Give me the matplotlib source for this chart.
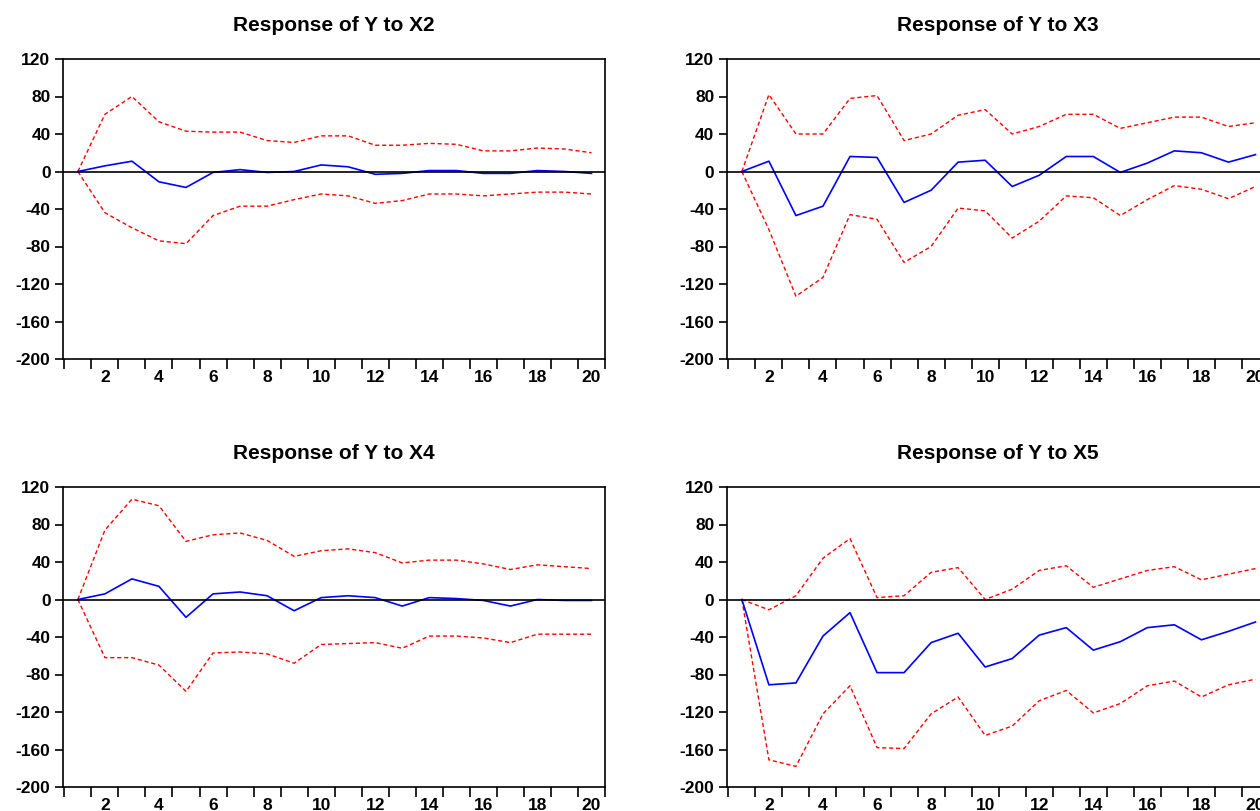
import matplotlib
matplotlib.use("Agg")
import matplotlib.pyplot as plt
import numpy as np

plt.rcParams['font.family'] = ['Liberation Sans', 'DejaVu Sans']

periods = list(range(1, 21))

# Response of Y to X2
x2_resp = [0, 6, 11, -11, -17, -1, 2, -1, 0, 7, 5, -3, -2, 1, 1, -2, -2, 1, 0, -2]
x2_upper = [0, 61, 80, 53, 43, 42, 42, 33, 31, 38, 38, 28, 28, 30, 29, 22, 22, 25, 24, 20]
x2_lower = [0, -44, -60, -74, -77, -47, -37, -37, -30, -24, -26, -34, -31, -24, -24, -26, -24, -22, -22, -24]

# Response of Y to X3
x3_resp = [0, 11, -47, -37, 16, 15, -33, -20, 10, 12, -16, -4, 16, 16, -1, 9, 22, 20, 10, 18]
x3_upper = [0, 82, 40, 40, 78, 81, 33, 40, 60, 66, 40, 48, 61, 61, 46, 52, 58, 58, 48, 52]
x3_lower = [0, -62, -133, -113, -46, -51, -97, -80, -39, -42, -71, -53, -26, -28, -47, -30, -15, -19, -29, -16]

# Response of Y to X4
x4_resp = [0, 6, 22, 14, -19, 6, 8, 4, -12, 2, 4, 2, -7, 2, 1, -1, -7, 0, -1, -1]
x4_upper = [0, 74, 107, 100, 62, 69, 71, 63, 46, 52, 54, 50, 39, 42, 42, 38, 32, 37, 35, 33]
x4_lower = [0, -62, -62, -70, -98, -57, -56, -58, -68, -48, -47, -46, -52, -39, -39, -41, -46, -37, -37, -37]

# Response of Y to X5
x5_resp = [0, -91, -89, -39, -14, -78, -78, -46, -36, -72, -63, -38, -30, -54, -45, -30, -27, -43, -34, -24]
x5_upper = [0, -11, 4, 44, 65, 2, 4, 29, 34, 0, 11, 31, 36, 13, 22, 31, 35, 21, 27, 33]
x5_lower = [0, -171, -178, -122, -92, -158, -159, -122, -104, -145, -135, -108, -97, -121, -111, -92, -87, -104, -91, -85]

titles = ["Response of Y to X2", "Response of Y to X3",
          "Response of Y to X4", "Response of Y to X5"]
panels = [(x2_resp, x2_upper, x2_lower), (x3_resp, x3_upper, x3_lower),
          (x4_resp, x4_upper, x4_lower), (x5_resp, x5_upper, x5_lower)]
yticks = [-200, -160, -120, -80, -40, 0, 40, 80, 120]

fig = plt.figure(figsize=(12.6, 8.11), dpi=100)

# axes boxes in pixels (left, top), same size for all panels
W, H = 1260.0, 811.0
boxes = [(63, 59), (727, 59), (63, 487), (727, 487)]
aw, ah = 542, 300

for (left, top), title, (resp, upper, lower) in zip(boxes, titles, panels):
    ax = fig.add_axes([left / W, 1 - (top + ah) / H, aw / W, ah / H])
    ax.plot(periods, upper, color='#ff0000', lw=1.0, ls=(0, (3, 2)))
    ax.plot(periods, lower, color='#ff0000', lw=1.0, ls=(0, (3, 2)))
    ax.plot(periods, resp, color='#0000ff', lw=1.2)
    ax.axhline(0, color='black', lw=1.2)
    ax.set_xlim(0.45, 20.5)
    ax.set_ylim(-200, 120)
    ax.set_yticks(yticks)
    ax.set_yticklabels([str(v) for v in yticks])
    # ticks between periods, labels on even periods
    ax.set_xticks(np.arange(0.5, 21, 1.0))
    ax.set_xticklabels([])
    ax.set_xticks(range(2, 21, 2), minor=True)
    ax.set_xticklabels([str(v) for v in range(2, 21, 2)], minor=True)
    ax.tick_params(axis='x', which='minor', length=0, pad=8)
    ax.tick_params(axis='x', which='major', length=7, width=1.2, direction='out')
    ax.tick_params(axis='y', length=6, width=1.2, direction='out', pad=3)
    for lab in ax.get_yticklabels() + ax.get_xticklabels(minor=True):
        lab.set_fontweight('bold')
        lab.set_fontsize(12.5)
    for sp in ax.spines.values():
        sp.set_linewidth(1.2)
    ax.set_title(title, fontsize=15, fontweight='bold', pad=20)

fig.savefig("out.png", dpi=100)
